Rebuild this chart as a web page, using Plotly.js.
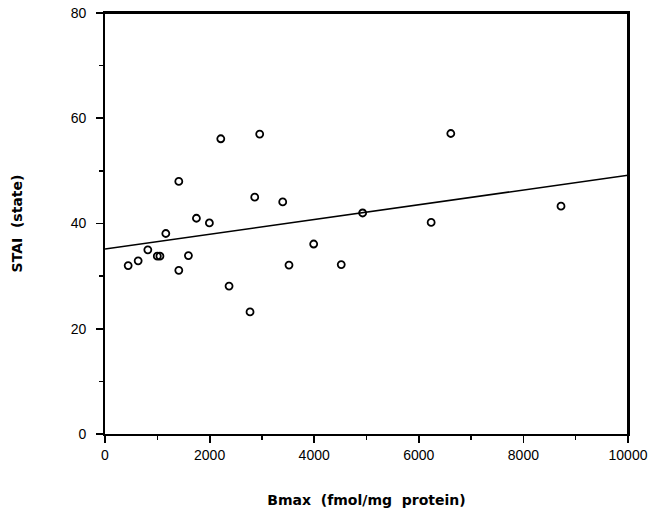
<!DOCTYPE html>
<html>
<head>
<meta charset="utf-8">
<script src="https://cdn.plot.ly/plotly-3.0.1.min.js"></script>
<style>html,body{margin:0;padding:0;background:#fff;}#chart{width:653px;height:520px;}</style>
</head>
<body>
<div id="chart"></div>
<script>
// Data
const bmax = [443, 634, 819, 1000, 1050, 1163, 1411, 1411, 1595, 1748, 1996, 2214, 2372, 2773, 2863, 2958, 3398, 3518, 3990, 4517, 4926, 6236, 6612, 8719];
const stai = [32.0, 32.9, 35.0, 33.8, 33.8, 38.1, 31.1, 48.0, 33.9, 41.0, 40.1, 56.1, 28.1, 23.2, 45.0, 57.0, 44.1, 32.1, 36.1, 32.2, 42.0, 40.2, 57.1, 43.3];
const fitX = [0, 10000];
const fitY = [35.15, 49.16];
const xTicks = [0, 2000, 4000, 6000, 8000, 10000];
const yTicks = [0, 20, 40, 60, 80];

const tickFont = 'Liberation Sans, Arial, Helvetica, sans-serif';
const titleFont = 'DejaVu Sans, Liberation Sans, Arial, sans-serif';

const traces = [
  {x: fitX, y: fitY, mode: 'lines', type: 'scatter',
   line: {color: '#000', width: 1.6}, hoverinfo: 'skip'},
  {x: bmax, y: stai, mode: 'markers', type: 'scatter',
   marker: {symbol: 'circle-open', size: 7, color: '#000', line: {color: '#000', width: 1.8}}}
];

const layout = {
  width: 653, height: 520,
  margin: {l: 105, r: 25, t: 13, b: 86},
  paper_bgcolor: '#fff', plot_bgcolor: '#fff',
  showlegend: false,
  font: {family: tickFont, size: 14, color: '#000'},
  shapes: [
    {type: 'line', xref: 'paper', yref: 'paper', x0: 0, x1: 1, y0: 1, y1: 1, layer: 'above',
     line: {color: '#000', width: 2}},
    {type: 'line', xref: 'paper', yref: 'paper', x0: 1, x1: 1, y0: 0, y1: 1, layer: 'above',
     line: {color: '#000', width: 2}}
  ],
  xaxis: {
    range: [0, 10000], tickvals: xTicks, ticktext: xTicks.map(String),
    showgrid: false, zeroline: false,
    showline: true, mirror: true, linecolor: '#000', linewidth: 1.8,
    ticks: 'outside', ticklen: 7, tickwidth: 1.8, tickcolor: '#000',
    minor: {dtick: 1000, ticks: 'outside', ticklen: 4, tickwidth: 1.5, tickcolor: '#000', showgrid: false},
    tickfont: {family: tickFont, size: 14},
    title: {text: 'Bmax  (fmol/mg  protein)', font: {family: titleFont, size: 14, weight: 'bold'}, standoff: 34},
    automargin: false
  },
  yaxis: {
    range: [0, 80], tickvals: yTicks, ticktext: yTicks.map(String),
    showgrid: false, zeroline: false,
    showline: true, mirror: true, linecolor: '#000', linewidth: 1.8,
    ticks: 'outside', ticklen: 7, tickwidth: 1.8, tickcolor: '#000',
    minor: {dtick: 10, ticks: 'outside', ticklen: 4, tickwidth: 1.5, tickcolor: '#000', showgrid: false},
    tickfont: {family: tickFont, size: 14},
    ticklabelstandoff: 7,
    title: {text: 'STAI  (state)', font: {family: titleFont, size: 14, weight: 'bold'}, standoff: 45},
    automargin: false
  }
};

Plotly.newPlot('chart', traces, layout, {displayModeBar: false, staticPlot: true});
</script>
</body>
</html>
